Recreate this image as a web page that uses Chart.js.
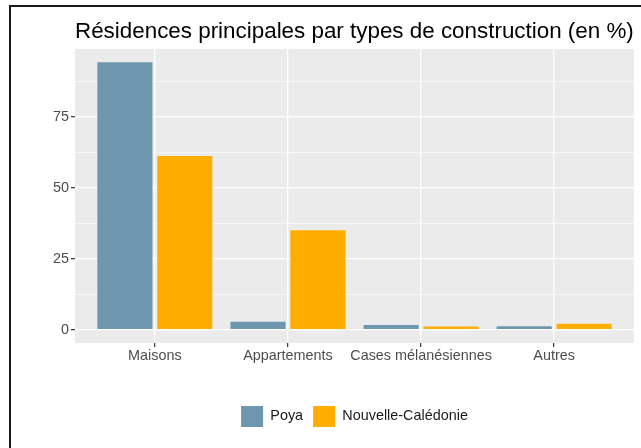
<!DOCTYPE html>
<html>
<head>
<meta charset="utf-8">
<script src="https://cdn.jsdelivr.net/npm/chart.js@4/dist/chart.umd.min.js"></script>
<style>
  html, body { margin: 0; padding: 0; background: #ffffff; overflow: hidden; }
  #wrap { position: relative; width: 641px; height: 448px; }
  #frame { position: absolute; left: 9px; top: 5px; width: 700px; height: 500px;
           border-top: 2px solid #1a1a1a; border-left: 2px solid #1a1a1a; box-sizing: border-box; pointer-events: none; }
  canvas { position: absolute; left: 0; top: 0; }
</style>
</head>
<body>
<div id="wrap">
  <canvas id="c" width="641" height="448"></canvas>
  <div id="frame"></div>
</div>
<script>
const titleText = "Résidences principales par types de construction (en %)";
const categories = ["Maisons", "Appartements", "Cases mélanésiennes", "Autres"];
const seriesNames = ["Poya", "Nouvelle-Calédonie"];
const poya = [94.3, 2.8, 1.6, 1.2];
const nouvelleCaledonie = [61.3, 35.1, 1.1, 2.1];
const yMajorTicks = [0, 25, 50, 75];
const yMinorTicks = [12.5, 37.5, 62.5, 87.5];

const colors = ["#6D96AF", "#FFAD00"];
const dataMax = Math.max(...poya, ...nouvelleCaledonie);
const FONT = '"Liberation Sans", Arial, sans-serif';

const panelBg = {
  id: 'panelBg',
  beforeDraw(chart) {
    const a = chart.chartArea, ctx = chart.ctx;
    ctx.save();
    ctx.fillStyle = '#EBEBEB';
    ctx.fillRect(a.left, a.top, a.right - a.left, a.bottom - a.top);
    ctx.restore();
  }
};
const titlePlugin = {
  id: 'titlePlugin',
  afterDraw(chart) {
    const ctx = chart.ctx;
    ctx.save();
    ctx.font = '22.4px ' + FONT;
    ctx.fillStyle = '#000000';
    ctx.textBaseline = 'alphabetic';
    ctx.textAlign = 'left';
    ctx.fillText(titleText, chart.chartArea.left, 38);
    ctx.restore();
  }
};

const isMajor = v => yMajorTicks.includes(v);

new Chart(document.getElementById('c'), {
  type: 'bar',
  data: {
    datasets: [
      { label: seriesNames[0], data: poya.map((v, i) => ({ x: i, y: v })), backgroundColor: colors[0], borderWidth: 0 },
      { label: seriesNames[1], data: nouvelleCaledonie.map((v, i) => ({ x: i, y: v })), backgroundColor: colors[1], borderWidth: 0 }
    ]
  },
  options: {
    responsive: false,
    animation: false,
    devicePixelRatio: 1,
    categoryPercentage: 0.9,
    barPercentage: 0.92,
    layout: { padding: { top: 49, right: 7, left: 0, bottom: 11 } },
    plugins: {
      title: { display: false },
      tooltip: { enabled: false },
      legend: {
        position: 'bottom',
        fullSize: false,
        labels: {
          boxWidth: 22, boxHeight: 21, padding: 10,
          color: '#1A1A1A',
          font: { family: FONT, size: 14.4 }
        }
      }
    },
    scales: {
      x: {
        type: 'linear',
        offset: false,
        min: -0.6,
        max: categories.length - 1 + 0.6,
        afterBuildTicks: s => { s.ticks = categories.map((_, i) => ({ value: i })); },
        afterFit: s => { s.height = 53; },
        border: { display: false },
        grid: { offset: false, color: '#FFFFFF', lineWidth: 1.3, tickLength: 4, tickColor: '#333333', tickWidth: 1.2, drawTicks: true },
        ticks: {
          autoSkip: false, maxRotation: 0, padding: 0,
          color: '#4D4D4D', font: { family: FONT, size: 14.4 },
          callback: (v, i) => categories[i]
        }
      },
      y: {
        type: 'linear',
        min: -0.05 * dataMax,
        max: 1.05 * dataMax,
        afterBuildTicks: s => { s.ticks = [...yMajorTicks, ...yMinorTicks].sort((a, b) => a - b).map(v => ({ value: v })); },
        afterFit: s => { s.width = 75; },
        border: { display: false },
        grid: {
          color: '#FFFFFF',
          lineWidth: c => (c.tick && isMajor(c.tick.value)) ? 1.3 : 0.6,
          tickLength: 4,
          tickColor: c => (c.tick && isMajor(c.tick.value)) ? '#333333' : 'rgba(0,0,0,0)',
          tickWidth: 1.2
        },
        ticks: {
          autoSkip: false, padding: 2,
          color: '#4D4D4D', font: { family: FONT, size: 14.4 },
          callback: v => isMajor(v) ? String(v) : ''
        }
      }
    }
  },
  plugins: [panelBg, titlePlugin]
});
</script>
</body>
</html>
